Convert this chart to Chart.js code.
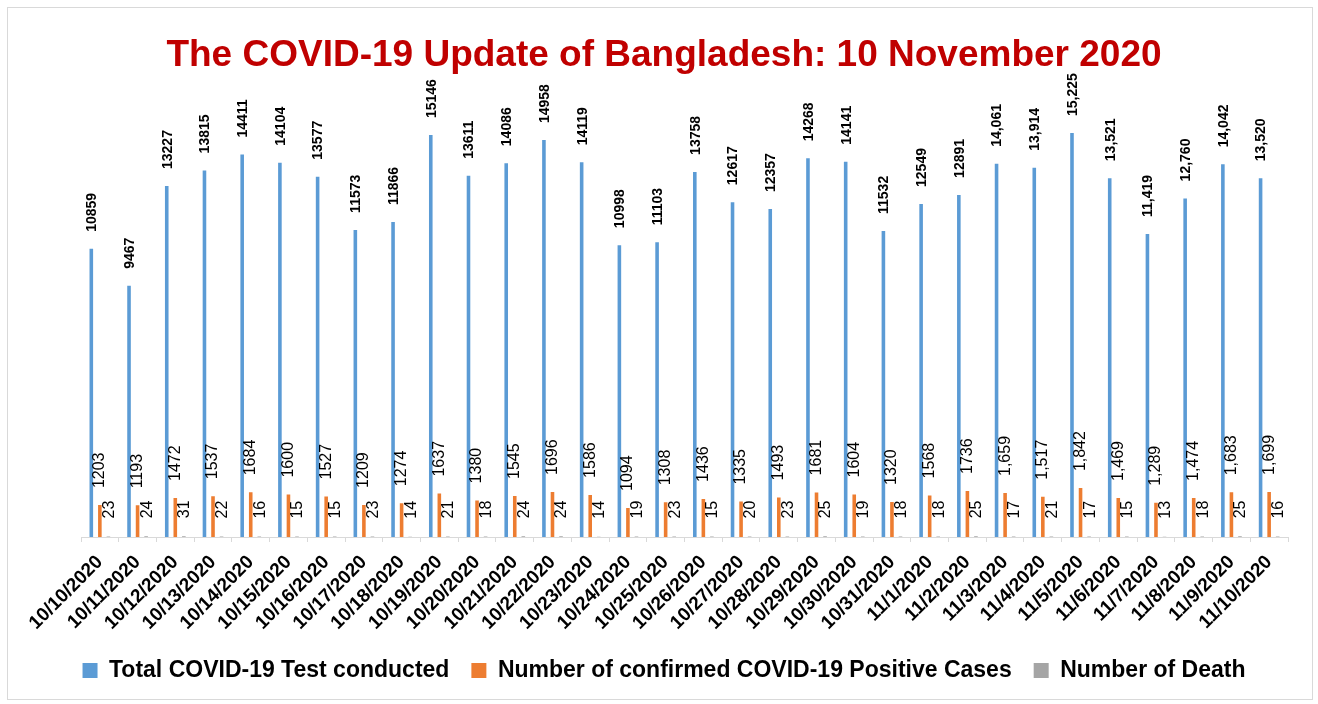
<!DOCTYPE html>
<html>
<head>
<meta charset="utf-8">
<script src="https://cdn.jsdelivr.net/npm/chart.js@4"></script>
<style>
html,body{margin:0;padding:0;background:#fff;}
#wrap{width:1318px;height:704px;position:relative;}
</style>
</head>
<body>
<div id="wrap"><canvas id="c" width="1318" height="704"></canvas></div>
<script>
const titleText = 'The COVID-19 Update of Bangladesh: 10 November 2020';
const categories = ['10/10/2020','10/11/2020','10/12/2020','10/13/2020','10/14/2020','10/15/2020','10/16/2020','10/17/2020','10/18/2020','10/19/2020','10/20/2020','10/21/2020','10/22/2020','10/23/2020','10/24/2020','10/25/2020','10/26/2020','10/27/2020','10/28/2020','10/29/2020','10/30/2020','10/31/2020','11/1/2020','11/2/2020','11/3/2020','11/4/2020','11/5/2020','11/6/2020','11/7/2020','11/8/2020','11/9/2020','11/10/2020'];
const testsConducted = [10859,9467,13227,13815,14411,14104,13577,11573,11866,15146,13611,14086,14958,14119,10998,11103,13758,12617,12357,14268,14141,11532,12549,12891,14061,13914,15225,13521,11419,12760,14042,13520];
const positiveCases = [1203,1193,1472,1537,1684,1600,1527,1209,1274,1637,1380,1545,1696,1586,1094,1308,1436,1335,1493,1681,1604,1320,1568,1736,1659,1517,1842,1469,1289,1474,1683,1699];
const deaths = [23,24,31,22,16,15,15,23,14,21,18,24,24,14,19,23,15,20,23,25,19,18,18,25,17,21,17,15,13,18,25,16];
const seriesNames = ['Total COVID-19 Test conducted','Number of confirmed COVID-19 Positive Cases','Number of Death'];
const commaFromIndex = 24; // labels shown with thousands separators from 11/3/2020
const yMin = 0, yMax = 16000;

const FONT = '"Liberation Sans", Arial, sans-serif';

function fmt(v, i, useComma) {
  const s = String(v);
  if (useComma && i >= commaFromIndex) return s.replace(/\B(?=(\d{3})+(?!\d))/g, ',');
  return s;
}

const frame = {
  id: 'frame',
  beforeDraw(chart) {
    const ctx = chart.ctx;
    ctx.save();
    ctx.fillStyle = '#ffffff';
    ctx.fillRect(0, 0, chart.width, chart.height);
    ctx.strokeStyle = '#d9d9d9';
    ctx.lineWidth = 1;
    ctx.strokeRect(7.5, 7.5, 1305, 692);
    ctx.restore();
  }
};

const barLabels = {
  id: 'barLabels',
  afterDatasetsDraw(chart) {
    const ctx = chart.ctx;
    chart.data.datasets.forEach((ds, di) => {
      const meta = chart.getDatasetMeta(di);
      const st = ds.labelStyle;
      meta.data.forEach((bar, i) => {
        const txt = fmt(ds.data[i], i, st.comma);
        ctx.save();
        ctx.translate(bar.x + st.dx, bar.y - st.offset);
        ctx.rotate(-Math.PI / 2);
        ctx.font = st.font;
        ctx.fillStyle = '#000000';
        ctx.textAlign = 'left';
        ctx.textBaseline = 'middle';
        ctx.fillText(txt, 0, 0);
        ctx.restore();
      });
    });
  }
};

new Chart(document.getElementById('c'), {
  type: 'bar',
  data: {
    labels: categories,
    datasets: [
      {label: seriesNames[0], data: testsConducted, backgroundColor: '#5B9BD5', borderWidth: 0,
       labelStyle: {font: 'bold 14px ' + FONT, offset: 17, dx: 1, comma: true}},
      {label: seriesNames[1], data: positiveCases, backgroundColor: '#ED7D31', borderWidth: 0,
       labelStyle: {font: '16px ' + FONT, offset: 17, dx: 0, comma: true}},
      {label: seriesNames[2], data: deaths, backgroundColor: '#A5A5A5', borderWidth: 0,
       labelStyle: {font: '16px ' + FONT, offset: 18, dx: 1, comma: false}}
    ]
  },
  options: {
    responsive: false,
    animation: false,
    events: [],
    categoryPercentage: 0.68,
    barPercentage: 0.42,
    layout: {padding: {left: 40, right: 30, top: 0, bottom: 12}},
    scales: {
      x: {
        offset: true,
        grid: {display: true, drawOnChartArea: false, offset: true, color: '#d9d9d9', tickLength: 5, lineWidth: 1},
        border: {display: true, color: '#d9d9d9', width: 1},
        ticks: {autoSkip: false, maxRotation: 45, minRotation: 45, padding: 9, color: '#000000',
                font: {family: FONT, size: 19, weight: 'bold'}},
        afterFit(scale) { scale.height = 100; }
      },
      y: {
        display: true, min: yMin, max: yMax,
        grid: {display: false}, border: {display: false}, ticks: {display: false},
        afterFit(scale) { scale.width = 41; }
      }
    },
    plugins: {
      title: {display: true, text: titleText, color: '#C00000',
              font: {family: FONT, size: 37, weight: 'bold'}, padding: {top: 34, bottom: 34}},
      legend: {display: true, position: 'bottom',
               labels: {boxWidth: 15, boxHeight: 15, padding: 22, color: '#000000',
                        font: {family: FONT, size: 23, weight: 'bold'}}},
      tooltip: {enabled: false}
    }
  },
  plugins: [frame, barLabels]
});
</script>
</body>
</html>
